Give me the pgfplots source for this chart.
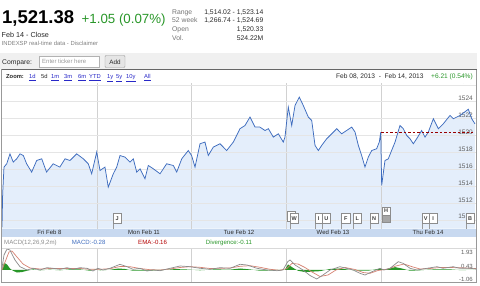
\documentclass[border=0pt]{standalone}
\usepackage{pgfplots}
\usepackage{pgfplotstable}
\pgfplotsset{compat=1.18}
\usepackage{fontspec}
\setmainfont{Liberation Sans}
\newcommand\fs[1]{\fontsize{#1}{#1}\selectfont}
\definecolor{gline}{RGB}{62,108,190}
\definecolor{gfill}{RGB}{228,238,251}
\definecolor{ggreen}{RGB}{40,150,40}
\definecolor{glink}{RGB}{40,40,200}
\definecolor{datebar}{RGB}{200,217,240}
\definecolor{macdgray}{RGB}{140,140,140}
\definecolor{macdred}{RGB}{214,130,115}
\definecolor{macdgreen}{RGB}{40,150,40}
\definecolor{labgray}{RGB}{95,95,95}
\definecolor{txt}{RGB}{40,40,40}

\pgfplotstableread{
x y
0 1509.16
0.007 1513.1
0.021 1516.26
0.05 1516.65
0.084 1517.83
0.119 1516.85
0.155 1517.24
0.19 1517.83
0.225 1517.63
0.26 1516.65
0.313 1515.67
0.366 1517.04
0.419 1517.24
0.47 1515.67
0.54 1516.65
0.61 1516.26
0.665 1517.24
0.717 1517.04
0.788 1517.83
0.858 1517.24
0.91 1516.65
0.946 1515.47
0.999 1518.04
1.034 1515.86
1.086 1516.26
1.121 1513.89
1.174 1515.47
1.21 1516.26
1.245 1517.63
1.297 1517.44
1.35 1516.85
1.385 1517.24
1.421 1515.67
1.456 1516.06
1.508 1514.88
1.543 1516.45
1.596 1516.06
1.667 1515.47
1.737 1516.65
1.807 1516.45
1.843 1515.67
1.896 1517.24
1.965 1518.22
2.0 1517.63
2.036 1516.26
2.089 1519.02
2.141 1519.22
2.176 1517.63
2.229 1518.63
2.3 1519.02
2.37 1518.22
2.44 1519.22
2.493 1520.4
2.51 1520.8
2.563 1521.18
2.616 1522.18
2.669 1520.99
2.72 1520.99
2.774 1520.59
2.81 1520.8
2.862 1519.81
2.915 1520.2
2.967 1519.22
2.985 1519.81
3.02 1523.36
3.056 1521.18
3.091 1523.55
3.136 1524.54
3.178 1523.55
3.231 1522.18
3.267 1521.78
3.302 1518.82
3.337 1518.22
3.372 1518.82
3.425 1519.61
3.478 1520.2
3.531 1520.8
3.583 1520.2
3.636 1520.59
3.689 1520.99
3.724 1520.4
3.759 1518.82
3.794 1517.63
3.829 1516.26
3.864 1517.44
3.9 1518.22
3.952 1518.43
3.98 1519.22
3.995 1520.4
4.005 1514.1
4.04 1517.04
4.075 1517.24
4.11 1518.22
4.146 1519.22
4.198 1521.18
4.233 1520.8
4.269 1520.0
4.304 1519.61
4.339 1519.02
4.374 1519.61
4.427 1520.59
4.462 1519.81
4.497 1520.4
4.55 1521.98
4.603 1520.8
4.655 1521.38
4.726 1522.37
4.761 1521.98
4.831 1522.37
4.919 1523.1
4.955 1521.98
4.989 1521.38
}\mainline

\pgfplotstableread{
x y
0 0.206
0.021 1.662
0.053 2.334
0.084 2.222
0.137 1.102
0.19 0.352
0.264 -0.018
0.327 0.172
0.401 -0.018
0.475 0.24
0.538 0.172
0.612 0.06
0.686 0.24
0.749 0.06
0.823 0.24
0.897 0.172
0.96 -0.13
1.013 0.172
1.065 -0.018
1.139 0.172
1.245 0.62
1.319 0.352
1.382 0.06
1.456 0.172
1.529 -0.13
1.593 -0.018
1.667 -0.096
1.772 0.172
1.878 0.43
1.983 0.352
2.089 0.172
2.194 0.06
2.3 0.24
2.405 0.172
2.511 0.62
2.584 0.542
2.69 0.172
2.795 -0.018
2.901 -0.096
2.964 -0.018
3.014 0.912
3.038 1.102
3.091 0.542
3.175 -0.018
3.249 -0.634
3.32 -1.026
3.386 -0.578
3.46 -0.018
3.565 0.352
3.703 -0.018
3.776 -0.388
3.829 -0.578
3.903 -0.21
3.987 0.172
4.03 -0.018
4.093 0.172
4.18 0.912
4.23 0.732
4.304 0.172
4.378 -0.018
4.483 0.172
4.589 0.352
4.652 0.172
4.758 0.352
4.831 0.172
4.937 0.172
5.0 0.094
}\macdline

\pgfplotstableread{
x y
0 -0.018
0.032 0.878
0.074 1.998
0.105 2.11
0.158 1.438
0.222 0.654
0.295 0.206
0.401 0.094
0.506 0.15
0.612 0.15
0.717 0.15
0.823 0.15
0.928 0.06
1.034 0.06
1.139 0.128
1.245 0.374
1.35 0.352
1.456 0.15
1.561 0.016
1.667 -0.018
1.772 0.094
1.878 0.262
1.983 0.352
2.089 0.284
2.194 0.15
2.3 0.172
2.405 0.206
2.511 0.396
2.616 0.464
2.722 0.284
2.827 0.06
2.932 -0.052
3.006 0.15
3.059 0.71
3.122 0.654
3.196 0.262
3.27 -0.242
3.354 -0.746
3.439 -0.578
3.523 -0.018
3.618 0.262
3.724 0.038
3.808 -0.298
3.882 -0.388
3.966 -0.074
4.072 0.094
4.156 0.43
4.241 0.654
4.325 0.352
4.409 0.094
4.515 0.15
4.62 0.262
4.726 0.262
4.831 0.228
5.0 0.15
}\emaline

\pgfplotstableread{
x y
0 0
0.021 0.8
0.053 0.6
0.084 0.15
0.116 -0.1
0.158 -0.3
0.211 -0.25
0.264 -0.1
0.327 0.05
0.401 -0.05
0.506 0.02
0.612 -0.05
0.717 0.05
0.823 0.05
0.928 -0.1
0.981 0.05
1.034 -0.05
1.139 0
1.224 0.15
1.297 0.1
1.382 -0.1
1.508 -0.1
1.667 -0.05
1.825 0.08
1.93 0.05
2.089 -0.05
2.247 0.05
2.405 0.02
2.511 0.15
2.616 0.05
2.722 -0.1
2.88 -0.05
2.985 0
3.017 0.6
3.059 0.3
3.122 -0.1
3.196 -0.25
3.27 -0.2
3.354 -0.15
3.46 0.1
3.565 0.15
3.671 0
3.776 -0.1
3.861 -0.1
3.966 0.1
4.04 0.05
4.146 0.3
4.219 0.15
4.304 -0.1
4.409 -0.05
4.515 0.03
4.62 0.06
4.726 0.05
4.831 -0.03
5 0
}\divline

\newcommand\flag[5]{%
  \draw[black!40] (#1,#4) -- (#1,228.7);
  \draw[black!45,fill=white] (#1,#2) rectangle (#3,#4);
  \node[font=\fs{5.5}\bfseries, text=black!75, inner sep=0pt] at ({(#1+#3)/2},{(#2+#4)/2}) {#5};}

\pgfplotsset{mainax/.style={at={(2pt,57.3pt)}, anchor=south west,
  width=474pt, height=145.7pt, scale only axis,
  xmin=0, xmax=5, ymin=1508.97, ymax=1526.21,
  axis line style={draw=none},
  xtick={1,2,3,4}, xticklabels={},
  major tick length=0pt,
  ytick={1510,1512,...,1526}}}

\begin{document}
\begin{tikzpicture}
\path[use as bounding box] (0,0) rectangle (480pt,286pt);

% main price chart: fill and grid
\begin{axis}[mainax, axis on top, yticklabels={},
  xmajorgrids, ymajorgrids,
  x grid style={black!18, line width=0.5pt},
  y grid style={black!10, line width=0.5pt}]
\addplot[draw=none, fill=gfill] table[x=x,y=y] {\mainline} \closedcycle;
\end{axis}
% main price chart: line and labels
\begin{axis}[mainax,
  yticklabel pos=right,
  yticklabel style={anchor=base east, inner sep=0pt, xshift=-3pt, yshift=1pt, font=\fs{6.5}, text=labgray},
  /pgf/number format/assume math mode=true,
  /pgf/number format/1000 sep={}]
\addplot[gline, line width=0.75pt] table[x=x,y=y] {\mainline};
\addplot[color=red!60!black, line width=0.5pt, dash pattern=on 2.5pt off 2pt] coordinates {(4.0,1520.33) (4.97,1520.33)};
\end{axis}

% MACD panel
\begin{axis}[at={(2pt,4pt)}, anchor=south west,
  width=474pt, height=34pt, scale only axis,
  xmin=0, xmax=5, ymin=-1.362, ymax=2.446,
  axis line style={draw=none},
  xtick={1,2,3,4}, xticklabels={},
  major tick length=0pt,
  xmajorgrids, x grid style={black!18, line width=0.5pt},
  ytick={-1.06,0.43,1.93}, yticklabels={-1.06,0.43,1.93},
  yticklabel pos=right,
  yticklabel style={anchor=east, inner sep=0pt, xshift=-3pt, font=\fs{6}, text=labgray},
]
\addplot[draw=none, fill=macdgreen] table[x=x,y=y] {\divline} -- cycle;
\addplot[macdred, line width=0.7pt] table[x=x,y=y] {\emaline};
\addplot[macdgray, line width=0.7pt] table[x=x,y=y] {\macdline};
\end{axis}

\begin{scope}[x=1pt, y=-1pt, yshift=286pt]
% compare band
\fill[black!6] (0,53) rectangle (477,69);
% header row of chart
\fill[white] (2,69.5) rectangle (476,83);
% frame
\draw[black!40, line width=0.5pt] (1.5,69) rectangle (476.5,282.5);
\draw[black!60, line width=0.6pt] (1.5,69) -- (476.5,69);
% date bar
\fill[datebar] (2,228.7) rectangle (476,236.7);
\draw[black!15] (2,248.3) -- (476,248.3);

% headline
\node[anchor=base west, inner sep=0pt, text=black] at (2,24) {\fs{18.5}\bfseries 1,521.38};
\node[anchor=base west, inner sep=0pt, text=ggreen] at (81.5,24) {\fs{13.3}+1.05 (0.07\%)};
\node[anchor=base west, inner sep=0pt, text=txt] at (1.5,37.5) {\fs{7.2}Feb 14 - Close};
\node[anchor=base west, inner sep=0pt, text=black!50] at (1.5,45.5) {\fs{5.9}INDEXSP real-time data - Disclaimer};

% right info block
\node[anchor=base west, inner sep=0pt, text=black!55] at (172,14.5) {\fs{6.8}Range};
\node[anchor=base west, inner sep=0pt, text=black!55] at (172,22.8) {\fs{6.8}52 week};
\node[anchor=base west, inner sep=0pt, text=black!55] at (172,32) {\fs{6.8}Open};
\node[anchor=base west, inner sep=0pt, text=black!55] at (172,40.5) {\fs{6.8}Vol.};
\node[anchor=base east, inner sep=0pt, text=txt] at (263.5,14.5) {\fs{6.8}1,514.02 - 1,523.14};
\node[anchor=base east, inner sep=0pt, text=txt] at (263.5,22.8) {\fs{6.8}1,266.74 - 1,524.69};
\node[anchor=base east, inner sep=0pt, text=txt] at (263.5,32) {\fs{6.8}1,520.33};
\node[anchor=base east, inner sep=0pt, text=txt] at (263.5,40.5) {\fs{6.8}524.22M};

% compare row
\node[anchor=base west, inner sep=0pt, text=txt] at (2,64.3) {\fs{6.8}Compare:};
\draw[black!30, fill=white] (39.5,56) rectangle (99.5,67);
\node[anchor=base west, inner sep=0pt, text=black!40] at (42,64) {\fs{6}Enter ticker here};
\draw[black!40, fill=black!10, rounded corners=1pt] (105,55.5) rectangle (125,67.5);
\node[anchor=base, inner sep=0pt, text=txt] at (115,64.3) {\fs{6.3}Add};

% zoom row
\node[anchor=base west, inner sep=0pt, text=txt] at (6,79) {\fs{5.8}\bfseries Zoom:};
\foreach \xx/\lab in {29/1d,51/1m,64/3m,78/6m,89/YTD,107/1y,116/5y,126/10y,144/All}
  \node[anchor=base west, inner sep=0pt, text=glink] at (\xx,79) {\fs{5.8}\underline{\lab}};
\node[anchor=base west, inner sep=0pt, text=txt] at (41,79) {\fs{5.8}5d};
\node[anchor=base west, inner sep=0pt, text=txt] at (336,78.3) {\fs{6.6}Feb 08, 2013\ \ -\ \ Feb 14, 2013};
\node[anchor=base east, inner sep=0pt, text=ggreen] at (473,78.3) {\fs{6.6}+6.21 (0.54\%)};

% date labels
\foreach \xx/\lab in {49.5/Fri Feb 8,144/Mon Feb 11,239/Tue Feb 12,333/Wed Feb 13,428/Thu Feb 14}
  \node[anchor=base, inner sep=0pt, text=txt] at (\xx,234.8) {\fs{6}\lab};

% MACD header
\node[anchor=base west, inner sep=0pt, text=black!45] at (4,244.7) {\fs{6.1}MACD(12,26,9,2m)};
\node[anchor=base west, inner sep=0pt, text=gline] at (71.7,244.7) {\fs{6.1}MACD:-0.28};
\node[anchor=base west, inner sep=0pt, text=red!70!black] at (138,244.7) {\fs{6.1}EMA:-0.16};
\node[anchor=base west, inner sep=0pt, text=ggreen] at (205.7,244.7) {\fs{6.1}Divergence:-0.11};

% event flags
\flag{113}{213.5}{121.5}{223.5}{J}
\draw[black!45,fill=white] (287.5,211) rectangle (295.5,221);
\flag{290}{213.5}{298.5}{223.5}{W}
\flag{315.5}{213.5}{322}{223.5}{I}
\flag{322}{213.5}{330.5}{223.5}{U}
\flag{341.5}{213.5}{350}{223.5}{F}
\flag{353}{213.5}{361.5}{223.5}{L}
\flag{370}{213.5}{378}{223.5}{N}
\draw[black!45, fill=black!35] (382,215) rectangle (390,222.5);
\draw[black!45, fill=white] (382,207) rectangle (390,215);
\node[font=\fs{5.5}\bfseries, text=black!75, inner sep=0pt] at (386,211) {H};
\flag{422}{213.5}{429.5}{223.5}{V}
\flag{429.5}{213.5}{437}{223.5}{I}
\flag{466}{213.5}{474}{223.5}{B}
\end{scope}
\end{tikzpicture}
\end{document}
